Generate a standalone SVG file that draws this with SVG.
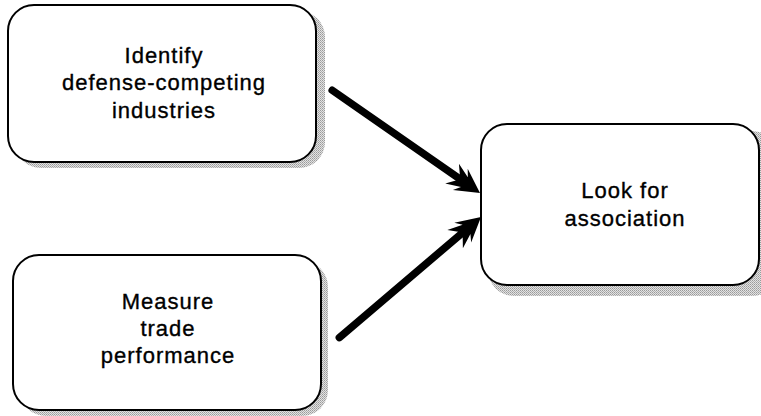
<svg xmlns="http://www.w3.org/2000/svg" width="761" height="416" viewBox="0 0 761 416">
  <defs>
    <pattern id="stipple" width="2" height="2" patternUnits="userSpaceOnUse">
      <rect width="2" height="2" fill="#e2e2e2"/>
      <rect x="0" y="0" width="1" height="1" fill="#9a9a9a"/>
      <rect x="1" y="1" width="1" height="1" fill="#b0b0b0"/>
    </pattern>
    <path id="head" d="M0,0 L-24,-13 L-19,-6 L-34,-12 L-27,-3.5 L-27,3.5 L-34,12 L-19,6 L-24,13 Z"/>
  </defs>
  <style>
    .shadow { fill: url(#stipple); stroke: none; }
    .box { fill: #fff; stroke: #000; stroke-width: 2; }
    .lbl { font-family: "Liberation Sans", Arial, Helvetica, sans-serif; font-size: 22px; letter-spacing: 1px; text-anchor: middle; fill: #000; stroke: #000; stroke-width: 0.35; }
    .shaft { stroke: #000; stroke-width: 7.5; stroke-linecap: round; fill: none; }
    .ah { fill: #000; }
  </style>
  <rect width="761" height="416" fill="#fff"/>

  <g id="node-identify">
    <rect class="shadow" x="15" y="11" width="310" height="157" rx="26"/>
    <rect class="box" x="8" y="5" width="308" height="157" rx="26"/>
    <text class="lbl" x="164" y="63">Identify</text>
    <text class="lbl" x="164" y="90">defense-competing</text>
    <text class="lbl" x="164" y="118">industries</text>
  </g>

  <g id="node-measure">
    <rect class="shadow" x="20" y="261" width="308" height="155" rx="26"/>
    <rect class="box" x="13" y="255" width="308" height="155" rx="26"/>
    <text class="lbl" x="168" y="309">Measure</text>
    <text class="lbl" x="168" y="336">trade</text>
    <text class="lbl" x="168" y="363">performance</text>
  </g>

  <g id="node-look">
    <rect class="shadow" x="488" y="131" width="290" height="165" rx="26"/>
    <rect class="box" x="481" y="124" width="278" height="161" rx="26"/>
    <text class="lbl" x="625" y="198">Look for</text>
    <text class="lbl" x="625" y="226">association</text>
  </g>

  <g id="connectors">
    <g transform="translate(480,193) rotate(34.8)">
      <line class="shaft" x1="-180" y1="0" x2="-26" y2="0"/>
      <use href="#head" class="ah"/>
    </g>
    <g transform="translate(481,217) rotate(-40.4)">
      <line class="shaft" x1="-186" y1="0" x2="-26" y2="0"/>
      <use href="#head" class="ah"/>
    </g>
  </g>
</svg>
